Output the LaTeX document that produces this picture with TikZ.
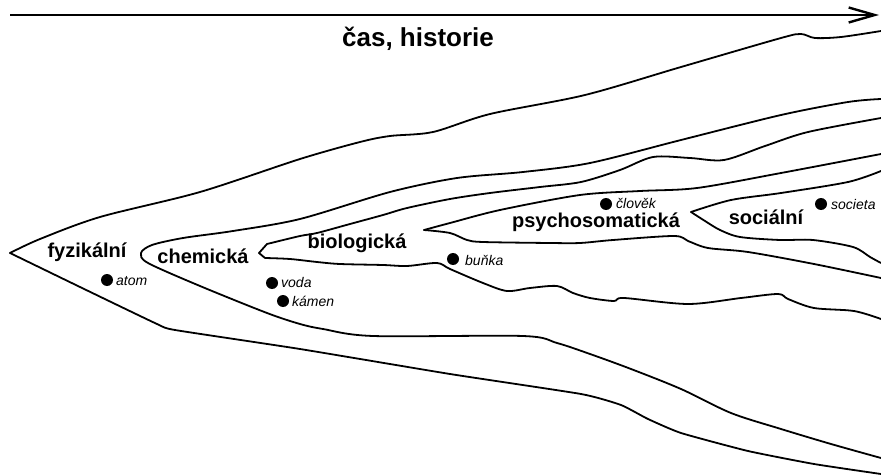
\documentclass[tikz,border=0pt]{standalone}
\usepackage{fontspec}
\setmainfont{Liberation Sans}
\usetikzlibrary{arrows.meta}
\tikzset{
  curve/.style={line width=1.8pt, line join=round, line cap=round},
  lbl/.style={font=\fontsize{20}{22}\selectfont\bfseries, inner sep=0pt, anchor=base},
  ttl/.style={font=\fontsize{26}{28}\selectfont\bfseries, inner sep=0pt, anchor=base},
  ex/.style={font=\fontsize{14}{16}\selectfont\itshape, inner sep=0pt, anchor=base west},
  dotc/.style={fill=black, circle, minimum size=12pt, inner sep=0pt}
}
\begin{document}
\begin{tikzpicture}[x=1pt, y=-1pt]
\useasboundingbox (0,0) rectangle (881,476);
% time arrow
\coordinate (t0) at (10,15);
\coordinate (t1) at (879,15);
\draw[line width=2.6pt, -{Straight Barb[length=26pt, width=15pt, line width=2.4pt]}] (t0) -- (t1);
\node[ttl] (title) at (418,47) {čas, historie};

% A: fyzikalni
\draw[curve] plot[smooth, tension=0.5] coordinates {(10,253) (40,239) (100,217) (200,192) (300,159) (360,142) (390,136) (433,132) (490,114) (585,95) (681,67) (781,38) (801,34) (815,38) (841,37) (881,31)};
\draw[curve] plot[smooth, tension=0.3] coordinates {(10,253) (80,287) (157,324) (175,330) (300,349) (450,374) (581,394) (621,405) (648,419) (681,433) (748,451) (814,464) (881,474)};

% B: chemicka
\draw[curve] plot[smooth, tension=0.5] coordinates {(881,99) (848,102) (781,115) (681,140) (590,163) (523,172) (457,178) (390,192) (300,219) (233,231) (183,238) (152,245) (141,253) (148,263) (200,286) (267,313) (300,324) (323,329) (373,336) (523,336) (557,343) (590,354) (631,369) (681,389) (731,413) (781,429) (831,444) (881,458)};

% C: biologicka
\draw[curve] (259,253) -- (267,244) plot[smooth, tension=0.5] coordinates {(267,244) (300,236) (317,233) (350,224) (383,215) (407,208) (450,199) (490,193) (540,187) (581,182) (620,170) (653,157) (690,158) (724,160) (765,146) (808,132) (881,118)};
\draw[curve] (259,253) -- (265,258) plot[smooth, tension=0.5] coordinates {(265,258) (290,259) (317,262) (340,264) (383,265) (407,266) (437,263) (450,269) (483,283) (507,291) (530,288) (557,286) (573,293) (590,298) (614,301) (624,298) (688,304) (741,298) (778,294) (788,299) (814,308) (854,311) (881,319)};

% D: psychosomaticka
\draw[curve] plot[smooth, tension=0.5] coordinates {(424,230) (450,223) (500,210) (580,195) (640,191) (697,188) (781,173) (881,154)};
\draw[curve] plot[smooth, tension=0.5] coordinates {(424,230) (450,233) (467,240) (483,242) (550,243) (580,243) (613,240) (674,236) (688,241) (708,248) (748,252) (814,264) (881,278)};

% E: socialni
\draw[curve] plot[smooth, tension=0.5] coordinates {(691,212) (731,200) (781,193) (848,182) (881,171)};
\draw[curve] plot[smooth, tension=0.5] coordinates {(691,212) (705,221) (720,230) (740,237) (780,240) (813,240) (853,247) (870,257) (881,263)};

% labels
\node[lbl] (fyz) at (87,257) {fyzikální};
\node[lbl] (che) at (203,263) {chemická};
\node[lbl] (bio) at (357,248) {biologická};
\node[lbl] (psy) at (596,227) {psychosomatická};
\node[lbl] (soc) at (766,224) {sociální};

% examples
\node[dotc] (d1) at (107,280) {};
\node[ex] (e1) at (116,285) {atom};
\node[dotc] (d2) at (272,283) {};
\node[ex] (e2) at (281,287) {voda};
\node[dotc] (d3) at (283,301) {};
\node[ex] (e3) at (292,306) {kámen};
\node[dotc] (d4) at (453,259) {};
\node[ex] (e4) at (465,265) {buňka};
\node[dotc] (d5) at (606,204) {};
\node[ex] (e5) at (616,208) {člověk};
\node[dotc] (d6) at (821,204) {};
\node[ex] (e6) at (831,209) {societa};
\end{tikzpicture}
\end{document}
